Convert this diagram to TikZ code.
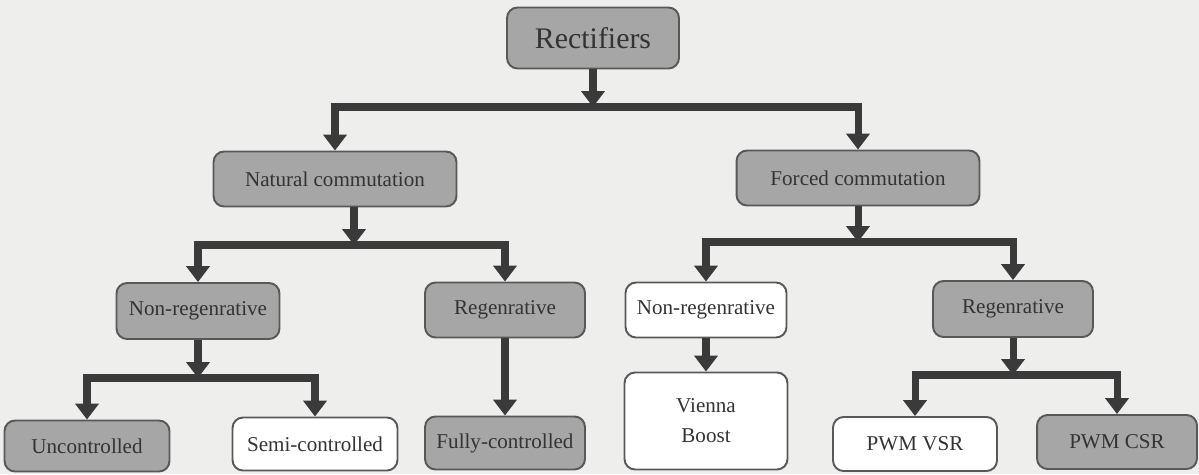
\documentclass[tikz,border=0pt]{standalone}
\usepackage{fontspec}
\setmainfont{Liberation Serif}
\usetikzlibrary{arrows.meta}
\definecolor{boxgray}{RGB}{166,166,166}
\definecolor{linegray}{RGB}{58,58,58}
\definecolor{bggray}{RGB}{238,238,236}
\tikzset{
  blk/.style={draw=linegray!85, line width=1.1pt, rounded corners=6pt, fill=boxgray,
    text=black!80, font=\fontsize{12}{17}\selectfont, align=center, inner sep=2pt},
  wblk/.style={blk, fill=white},
  conn/.style={draw=linegray, line width=4pt, line join=miter,
    -{Triangle[width=13pt,length=9pt]}},
}
\begin{document}
\begin{tikzpicture}[x=0.02cm,y=-0.02cm]
  \fill[bggray] (0,0) rectangle (1199,474);
  \useasboundingbox (0,0) rectangle (1199,474);
  % top
  \node[blk, minimum width=3.44cm, minimum height=1.22cm, font=\fontsize{17}{20}\selectfont] (rect) at (593,38) {Rectifiers};
  \node[blk, minimum width=4.86cm, minimum height=1.1cm] (nat) at (335,179) {Natural commutation};
  \node[blk, minimum width=4.86cm, minimum height=1.1cm] (forc) at (858,178) {Forced commutation};
  % second level
  \node[blk, minimum width=3.26cm, minimum height=1.12cm] (nrl) at (198,311) {Non-regenrative};
  \node[blk, minimum width=3.2cm, minimum height=1.1cm] (rgl) at (505,310) {Regenrative};
  \node[wblk, minimum width=3.22cm, minimum height=1.1cm] (nrr) at (706,310) {Non-regenrative};
  \node[blk, minimum width=3.2cm, minimum height=1.12cm] (rgr) at (1013,309) {Regenrative};
  % leaves
  \node[blk, minimum width=3.3cm, minimum height=1.02cm] (unc) at (87,446) {Uncontrolled};
  \node[wblk, minimum width=3.3cm, minimum height=1.06cm] (semi) at (315,444) {Semi-controlled};
  \node[blk, minimum width=3.2cm, minimum height=1.06cm] (full) at (505,443) {Fully-controlled};
  \node[wblk, minimum width=3.26cm, minimum height=1.94cm] (vien) at (706,421) {Vienna\\Boost};
  \node[wblk, minimum width=3.28cm, minimum height=1.08cm] (vsr) at (915,444) {PWM VSR};
  \node[blk, minimum width=3.2cm, minimum height=1.08cm] (csr) at (1117,442) {PWM CSR};
  % junctions
  \coordinate (j0) at (593,107);
  \coordinate (j1) at (354,245);
  \coordinate (j2) at (858,242);
  \coordinate (j3) at (198,378);
  \coordinate (j4) at (1013,375);
  % connectors
  \draw[conn] (rect.south) -- (j0);
  \draw[conn] (j0) -| (nat.north);
  \draw[conn] (j0) -| (forc.north);
  \draw[conn] (nat.south -| j1) -- (j1);
  \draw[conn] (j1) -| (nrl.north);
  \draw[conn] (j1) -| (rgl.north);
  \draw[conn] (forc.south) -- (j2);
  \draw[conn] (j2) -| (nrr.north);
  \draw[conn] (j2) -| (rgr.north);
  \draw[conn] (nrl.south) -- (j3);
  \draw[conn] (j3) -| (unc.north);
  \draw[conn] (j3) -| (semi.north);
  \draw[conn] (rgl.south) -- (full.north);
  \draw[conn] (nrr.south) -- (vien.north);
  \draw[conn] (rgr.south) -- (j4);
  \draw[conn] (j4) -| (vsr.north);
  \draw[conn] (j4) -| (csr.north);
\end{tikzpicture}
\end{document}
